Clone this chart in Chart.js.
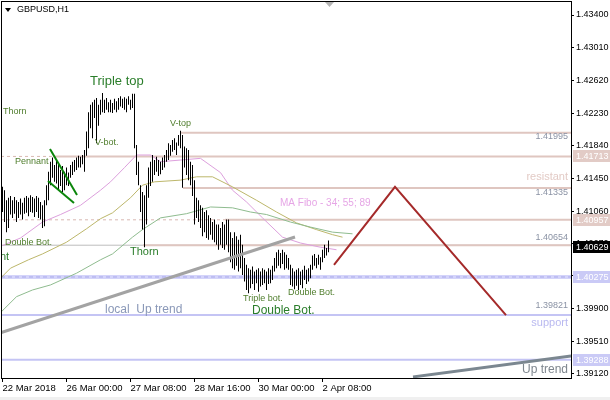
<!DOCTYPE html>
<html lang="en">
<head>
<meta charset="UTF-8" />
<title>GBPUSD,H1</title>
<script src="https://cdn.jsdelivr.net/npm/chart.js"></script>
<style>
  html, body { margin: 0; padding: 0; background: #fff; }
  canvas { display: block; }
</style>
</head>
<body>
<canvas id="chart" width="610" height="400"></canvas>
<script>
// hourly bars, one per index (high / low)
const highs = [
  1.4135, 1.4131, 1.4119, 1.4122, 1.4124, 1.4119, 1.4123, 1.4119, 1.4117, 1.4121,
  1.4116, 1.4122, 1.4124, 1.4122, 1.4125, 1.4123, 1.4121, 1.4124, 1.4122, 1.4117,
  1.4113, 1.4119, 1.4137, 1.4153, 1.4165, 1.4170, 1.4161, 1.4167, 1.4164, 1.4155,
  1.4160, 1.4153, 1.4158, 1.4152, 1.4161, 1.4165, 1.4167, 1.4170, 1.4172, 1.4171,
  1.4173, 1.4179, 1.4201, 1.4224, 1.4233, 1.4236, 1.4239, 1.4241, 1.4233, 1.4239,
  1.4247, 1.4239, 1.4241, 1.4236, 1.4239, 1.4235, 1.4240, 1.4237, 1.4241, 1.4243,
  1.4240, 1.4242, 1.4240, 1.4243, 1.4239, 1.4246, 1.4246, 1.4185, 1.4165, 1.4137,
  1.4129, 1.4125, 1.4137, 1.4158, 1.4165, 1.4173, 1.4167, 1.4171, 1.4167, 1.4165,
  1.4170, 1.4173, 1.4179, 1.4187, 1.4185, 1.4191, 1.4193, 1.4188, 1.4197, 1.4202,
  1.4197, 1.4183, 1.4181, 1.4179, 1.4165, 1.4161, 1.4143, 1.4122, 1.4119, 1.4113,
  1.4110, 1.4105, 1.4107, 1.4101, 1.4098, 1.4093, 1.4096, 1.4090, 1.4090, 1.4086,
  1.4093, 1.4090, 1.4096, 1.4096, 1.4081, 1.4074, 1.4081, 1.4076, 1.4072, 1.4078,
  1.4066, 1.4050, 1.4042, 1.4038, 1.4036, 1.4040, 1.4034, 1.4036, 1.4038, 1.4034,
  1.4038, 1.4036, 1.4034, 1.4038, 1.4036, 1.4041, 1.4050, 1.4057, 1.4060, 1.4056,
  1.4060, 1.4057, 1.4054, 1.4050, 1.4042, 1.4038, 1.4034, 1.4036, 1.4038, 1.4034,
  1.4036, 1.4041, 1.4036, 1.4038, 1.4042, 1.4053, 1.4055, 1.4050, 1.4054, 1.4051,
  1.4060, 1.4066, 1.4062, 1.4071
];
const lows = [
  1.4105, 1.4093, 1.4081, 1.4086, 1.4102, 1.4098, 1.4103, 1.4093, 1.4098, 1.4102,
  1.4096, 1.4103, 1.4104, 1.4100, 1.4105, 1.4104, 1.4099, 1.4105, 1.4098, 1.4096,
  1.4086, 1.4088, 1.4113, 1.4119, 1.4137, 1.4146, 1.4141, 1.4139, 1.4131, 1.4136,
  1.4129, 1.4131, 1.4137, 1.4136, 1.4146, 1.4149, 1.4153, 1.4155, 1.4158, 1.4158,
  1.4162, 1.4153, 1.4172, 1.4181, 1.4205, 1.4193, 1.4217, 1.4187, 1.4208, 1.4221,
  1.4224, 1.4223, 1.4227, 1.4224, 1.4224, 1.4223, 1.4227, 1.4224, 1.4227, 1.4231,
  1.4229, 1.4227, 1.4224, 1.4233, 1.4227, 1.4229, 1.4181, 1.4149, 1.4137, 1.4105,
  1.4084, 1.4063, 1.4090, 1.4122, 1.4136, 1.4141, 1.4149, 1.4153, 1.4148, 1.4150,
  1.4155, 1.4158, 1.4165, 1.4167, 1.4172, 1.4177, 1.4179, 1.4173, 1.4184, 1.4181,
  1.4134, 1.4158, 1.4149, 1.4143, 1.4137, 1.4124, 1.4090, 1.4098, 1.4093, 1.4086,
  1.4076, 1.4081, 1.4074, 1.4072, 1.4078, 1.4072, 1.4069, 1.4066, 1.4060, 1.4066,
  1.4062, 1.4060, 1.4066, 1.4057, 1.4045, 1.4038, 1.4036, 1.4041, 1.4034, 1.4038,
  1.4030, 1.4022, 1.4012, 1.4008, 1.4014, 1.4019, 1.4012, 1.4020, 1.4010, 1.4016,
  1.4018, 1.4020, 1.4012, 1.4019, 1.4020, 1.4024, 1.4034, 1.4038, 1.4041, 1.4038,
  1.4043, 1.4036, 1.4038, 1.4036, 1.4018, 1.4016, 1.4013, 1.4017, 1.4012, 1.4018,
  1.4014, 1.4024, 1.4019, 1.4022, 1.4026, 1.4036, 1.4041, 1.4038, 1.4042, 1.4036,
  1.4045, 1.4050, 1.4053, 1.4057
];

// moving averages (MA Fibo 34 / 55 / 89), sampled at bar indices
const ma34X = [0, 9, 20, 29, 39, 49, 54, 61, 67, 74, 79, 89, 99, 109, 115, 122, 130, 140, 149, 159, 167];
const ma34  = [1.4065, 1.4074, 1.4093, 1.4102, 1.4113, 1.4131, 1.4141, 1.4158, 1.4173, 1.4173, 1.4165,
               1.4167, 1.4169, 1.4152, 1.4131, 1.4117, 1.4098, 1.4075, 1.4068, 1.4063, 1.4060];
const ma55X = [-1, 4, 13, 20, 32, 42, 49, 55, 64, 70, 76, 89, 97, 105, 115, 127, 137, 147, 157, 165, 170];
const ma55  = [1.4026, 1.4038, 1.4048, 1.4055, 1.4069, 1.4085, 1.4097, 1.4104, 1.4122, 1.4137, 1.4141,
               1.4143, 1.4147, 1.4147, 1.4135, 1.4119, 1.4105, 1.4092, 1.4084, 1.4078, 1.4075];
const ma89X = [-1, 7, 15, 24, 37, 49, 55, 65, 70, 79, 92, 104, 115, 124, 132, 144, 154, 165, 175];
const ma89  = [1.3985, 1.4004, 1.4012, 1.4018, 1.4032, 1.4048, 1.4055, 1.4075, 1.4084, 1.4098,
               1.4103, 1.4111, 1.4110, 1.4105, 1.4102, 1.4093, 1.4087, 1.4081, 1.4079];

// horizontal levels and the bar where each one starts
const levelPrices = [1.41995, 1.41713, 1.41335, 1.40957, 1.40654, 1.40275, 1.39821, 1.39288];
const levelStart  = [88.75, 25.25, 90.25, 111.25, 70.25, -0.75, -0.75, -0.75];

// trend lines, pennant and the forecast zigzag (bar index, price)
const localUpX = [-1.25, 146.25], localUpY = [1.39607, 1.40752];
const upTrendX = [205.25, 284.25], upTrendY = [1.39083, 1.39333];
const pennantAX = [23.75, 37.25], pennantAY = [1.41802, 1.41253];
const pennantBX = [22.75, 35.75], pennantBY = [1.41420, 1.41158];
const zigzagX = [165.75, 196.25, 251.75], zigzagY = [1.40419, 1.41349, 1.39821];

// axes
const timeTickIdx = [0, 32, 64, 96, 128, 160];
const timeLabels = ['22 Mar 2018', '26 Mar 00:00', '27 Mar 08:00', '28 Mar 16:00', '30 Mar 00:00', '2 Apr 08:00'];
const priceTicks = [1.39120, 1.39510, 1.39900, 1.40290, 1.40670, 1.41060, 1.41450, 1.41840, 1.42230, 1.42620, 1.43010, 1.43400];

const FONT = "'Liberation Sans', Arial, sans-serif";
const X_MIN = -0.75, X_MAX = 284.25;
const ROSE = '#dfc6c0', LAV = '#c4c4f4';
const SMALL = '#4f7d2c', BIG = '#2a7d2a', LEVEL_TXT = '#8a92a4';

const notes = [
  { text: 'Thorn', at: 0.25, price: 1.42243, size: 9, color: SMALL },
  { text: 'Triple top', at: 43.75, price: 1.42613, size: 13, color: BIG },
  { text: 'V-top', at: 83.75, price: 1.42100, size: 9, color: SMALL },
  { text: 'V-bot.', at: 46.25, price: 1.41873, size: 9, color: SMALL },
  { text: 'Pennant', at: 6.25, price: 1.41647, size: 9, color: SMALL },
  { text: 'Double Bot.', at: 1.25, price: 1.40681, size: 9, color: SMALL },
  { text: 'nt', at: -1.25, price: 1.40514, size: 11, color: BIG },
  { text: 'Thorn', at: 63.75, price: 1.40573, size: 11, color: BIG },
  { text: 'MA Fibo - 34; 55; 89', at: 138.75, price: 1.41158, size: 10, color: '#e6a6e6' },
  { text: 'Triple bot.', at: 120.25, price: 1.40013, size: 9, color: SMALL },
  { text: 'Double Bot.', at: 142.75, price: 1.40084, size: 9, color: SMALL },
  { text: 'Double Bot.', at: 124.75, price: 1.39870, size: 12, color: BIG },
  { text: 'local  Up trend', at: 51.25, price: 1.39882, size: 12, color: '#8a98b8' },
  { text: '1.41995', at: 282.75, price: 1.41945, size: 9, color: LEVEL_TXT, align: 'right' },
  { text: '1.41335', at: 282.75, price: 1.41277, size: 9, color: LEVEL_TXT, align: 'right' },
  { text: 'resistant', at: 282.75, price: 1.41468, size: 11, color: '#e3cbc6', align: 'right' },
  { text: '1.40654', at: 282.75, price: 1.40740, size: 9, color: LEVEL_TXT, align: 'right' },
  { text: '1.39821', at: 282.75, price: 1.39929, size: 9, color: LEVEL_TXT, align: 'right' },
  { text: 'support', at: 282.75, price: 1.39726, size: 11, color: '#b9b9f0', align: 'right' },
  { text: 'Up trend', at: 282.75, price: 1.39166, size: 12, color: '#7e868e', align: 'right' }
];

const axisMarks = [
  { price: 1.41713, bg: '#e2cbc6' },
  { price: 1.40957, bg: '#e2cbc6' },
  { price: 1.40629, bg: '#000000' },
  { price: 1.40275, bg: '#cacaf6' },
  { price: 1.39288, bg: '#cacaf6' }
];

function pts(xs, ys) { return xs.map((x, i) => ({ x: x, y: ys[i] })); }
function line(data, color, width, order, dash) {
  return { type: 'line', data: data, borderColor: color, borderWidth: width, borderDash: dash || [],
           pointRadius: 0, tension: 0, fill: false, order: order };
}

const datasets = [];
// level lines, back-most
datasets.push(line(pts([X_MIN, X_MAX], [levelPrices[4], levelPrices[4]]), '#bdbdbd', 1, 30));
datasets.push(line(pts([X_MIN, levelStart[1]], [levelPrices[1], levelPrices[1]]), '#d9b8b2', 1, 30, [3, 3]));
datasets.push(line(pts([X_MIN, levelStart[3]], [levelPrices[3], levelPrices[3]]), '#d9b8b2', 1, 30, [3, 3]));
levelPrices.forEach((p, k) => {
  const lav = k >= 5;
  if (k === 5) {
    datasets.push(line(pts([levelStart[k], X_MAX], [p, p]), '#d4d4fa', 4, 25));
    datasets.push(line(pts([levelStart[k], X_MAX], [p, p]), '#a9a9ea', 1, 24, [4, 3]));
  } else {
    datasets.push(line(pts([levelStart[k], X_MAX], [p, p]), lav ? LAV : ROSE, 2, 25));
  }
});
// moving averages
datasets.push(line(pts(ma89X, ma89), '#8fbc8f', 1, 15));
datasets.push(line(pts(ma55X, ma55), '#bdb76b', 1, 15));
datasets.push(line(pts(ma34X, ma34), '#dda0dd', 1, 15));
// price bars
datasets.push({
  type: 'bar',
  data: highs.map((h, i) => ({ x: i, y: [lows[i], h] })),
  backgroundColor: '#000',
  borderWidth: 0,
  barThickness: 1,
  inflateAmount: 0,
  grouped: false,
  order: 10
});
// drawn objects on top
datasets.push(line(pts(localUpX, localUpY), '#a3a3a3', 3, 2));
datasets.push(line(pts(upTrendX, upTrendY), '#7b8790', 3, 2));
datasets.push(line(pts(pennantAX, pennantAY), '#0b860b', 2, 2));
datasets.push(line(pts(pennantBX, pennantBY), '#0b860b', 2, 2));
datasets.push(line(pts(zigzagX, zigzagY), '#a52a2a', 2, 1));

const decor = {
  id: 'decor',
  beforeDraw(chart) {
    const c = chart.ctx;
    c.save();
    c.fillStyle = '#fff';
    c.fillRect(0, 0, chart.width, chart.height);
    c.fillStyle = '#f0f0f0';
    c.fillRect(0, 397, chart.width, 3);
    c.restore();
  },
  afterDatasetsDraw(chart) {
    const { ctx, chartArea: a, scales: { x, y } } = chart;
    ctx.save();
    ctx.beginPath();
    ctx.rect(a.left, a.top, a.right - a.left, a.bottom - a.top);
    ctx.clip();
    ctx.textBaseline = 'middle';
    notes.forEach(n => {
      ctx.font = n.size + 'px ' + FONT;
      ctx.fillStyle = n.color;
      ctx.textAlign = n.align || 'left';
      ctx.fillText(n.text, x.getPixelForValue(n.at), y.getPixelForValue(n.price));
    });
    ctx.restore();

    ctx.save();
    // frame
    ctx.strokeStyle = '#000';
    ctx.lineWidth = 1;
    ctx.strokeRect(a.left + 0.5, a.top + 0.5, a.right - a.left, a.bottom - a.top);
    // symbol header
    ctx.fillStyle = '#000';
    ctx.beginPath();
    ctx.moveTo(5, 8); ctx.lineTo(11, 8); ctx.lineTo(8, 12); ctx.closePath();
    ctx.fill();
    ctx.font = '9px ' + FONT;
    ctx.textAlign = 'left';
    ctx.textBaseline = 'middle';
    ctx.fillText('GBPUSD,H1', 17, 10);
    // chart shift marker
    ctx.fillStyle = '#b4b4b4';
    ctx.beginPath();
    ctx.moveTo(325, 2); ctx.lineTo(334, 2); ctx.lineTo(329.5, 7); ctx.closePath();
    ctx.fill();
    ctx.restore();
  },
  afterDraw(chart) {
    const { ctx, chartArea: a, scales: { y } } = chart;
    ctx.save();
    ctx.font = '9px ' + FONT;
    ctx.textAlign = 'left';
    ctx.textBaseline = 'middle';
    axisMarks.forEach(m => {
      const py = Math.round(y.getPixelForValue(m.price));
      ctx.fillStyle = m.bg;
      ctx.fillRect(a.right + 2, py - 6, chart.width - a.right - 2, 12);
      ctx.fillStyle = '#fff';
      ctx.fillText(m.price.toFixed(5), a.right + 5, py + 0.5);
    });
    ctx.restore();
  }
};

new Chart(document.getElementById('chart'), {
  type: 'bar',
  data: { datasets: datasets },
  options: {
    responsive: false,
    animation: false,
    events: [],
    layout: { padding: { left: 1, top: 1, right: 0, bottom: 0 } },
    plugins: { legend: { display: false }, tooltip: { enabled: false } },
    scales: {
      x: {
        type: 'linear',
        min: X_MIN,
        max: X_MAX,
        offset: false,
        afterBuildTicks: s => { s.ticks = timeTickIdx.map(v => ({ value: v })); },
        afterFit: s => { s.height = 22; s.paddingLeft = 0; s.paddingRight = 0; },
        grid: { drawOnChartArea: false, offset: false, tickLength: 4, tickColor: '#000' },
        border: { display: false },
        ticks: {
          align: 'start',
          autoSkip: false,
          maxRotation: 0,
          padding: 1,
          color: '#000',
          font: { family: FONT, size: 9.5 },
          callback: (v, i) => timeLabels[i]
        }
      },
      y: {
        type: 'linear',
        position: 'right',
        min: 1.39070,
        max: 1.43567,
        beginAtZero: false,
        afterBuildTicks: s => { s.ticks = priceTicks.map(v => ({ value: v })); },
        afterFit: s => { s.width = 39; s.paddingTop = 0; s.paddingBottom = 0; },
        grid: { drawOnChartArea: false, tickLength: 3, tickColor: '#000' },
        border: { display: false },
        ticks: {
          padding: 2,
          color: '#000',
          font: { family: FONT, size: 9 },
          callback: v => Number(v).toFixed(5)
        }
      }
    }
  },
  plugins: [decor]
});
</script>
</body>
</html>
